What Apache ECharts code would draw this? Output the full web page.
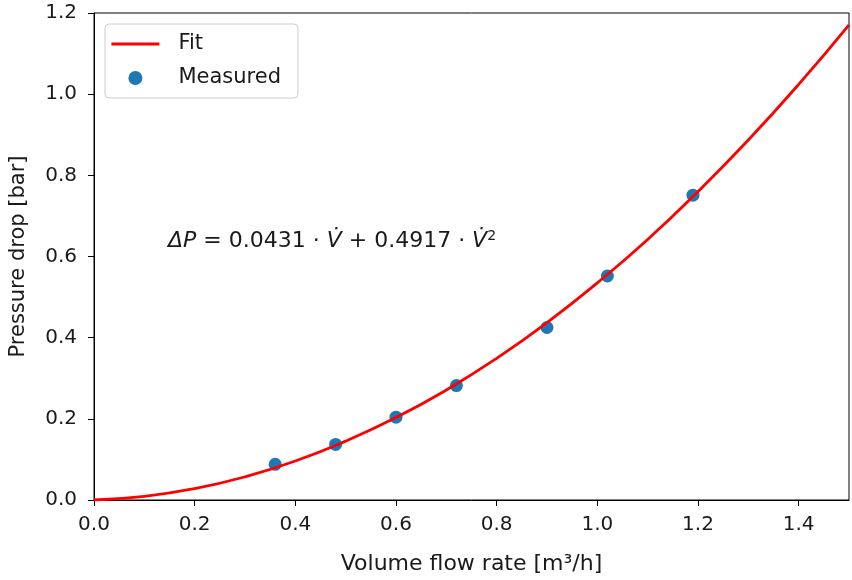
<!DOCTYPE html>
<html>
<head>
<meta charset="utf-8">
<script src="https://cdn.jsdelivr.net/npm/echarts@6/dist/echarts.min.js"></script>
<style>
  html, body { margin: 0; padding: 0; background: #fff; }
  #chart { width: 852px; height: 580px; }
</style>
</head>
<body>
<div id="chart"></div>
<script>
// measured points
const measuredFlow = [0.36, 0.48, 0.60, 0.72, 0.90, 1.02, 1.19];
const measuredDrop = [0.088, 0.137, 0.204, 0.282, 0.425, 0.552, 0.751];

// fit curve, sampled off the red line
const fitFlow = [0, 0.1, 0.2, 0.3, 0.4, 0.5, 0.6, 0.7, 0.8, 0.9, 1.0, 1.1, 1.2, 1.3, 1.4, 1.5];
const fitDrop = [0, 0.009, 0.028, 0.057, 0.096, 0.145, 0.203, 0.271, 0.349, 0.437, 0.535, 0.642, 0.760, 0.887, 1.024, 1.171];

const xTicks = [0, 0.2, 0.4, 0.6, 0.8, 1.0, 1.2, 1.4];
const yTicks = [0, 0.2, 0.4, 0.6, 0.8, 1.0, 1.2];

const font = "DejaVu Sans";
const txt = "#1a1a1a";
const chart = echarts.init(document.getElementById("chart"));

chart.setOption({
  animation: false,
  textStyle: { fontFamily: font },
  grid: {
    left: 93, right: 3, top: 13, bottom: 78,
    show: true, borderColor: "#000", borderWidth: 1
  },
  legend: {
    orient: "vertical",
    left: 105, top: 24,
    padding: [8, 17, 8, 5],
    itemGap: 10,
    itemWidth: 48, itemHeight: 14,
    backgroundColor: "#fff",
    borderColor: "#ccc", borderWidth: 1, borderRadius: 4,
    textStyle: { fontFamily: font, fontSize: 21, lineHeight: 24, color: txt, padding: [0, 0, 0, 14] },
    data: [
      { name: "Fit", icon: "line", itemStyle: { borderColor: "#ff0000", borderWidth: 2.8 } },
      { name: "Measured", icon: "circle", itemStyle: { color: "#1f77b4", opacity: 1 } }
    ]
  },
  xAxis: {
    type: "value", min: 0, max: 1.5, interval: 0.2,
    name: "Volume flow rate [m³/h]",
    nameLocation: "middle", nameGap: 53,
    nameTextStyle: { fontFamily: font, fontSize: 22, color: txt },
    axisLine: { show: true, lineStyle: { color: "#000" } },
    axisTick: { show: true, inside: false, length: 6, lineStyle: { color: "#000" } },
    axisLabel: {
      fontFamily: font, fontSize: 20, color: txt, margin: 15,
      showMaxLabel: false,
      formatter: v => xTicks.includes(+v.toFixed(1)) ? v.toFixed(1) : ""
    },
    splitLine: { show: false }
  },
  yAxis: {
    type: "value", min: 0, max: 1.2, interval: 0.2,
    name: "Pressure drop [bar]",
    nameLocation: "middle", nameGap: 65,
    nameTextStyle: { fontFamily: font, fontSize: 21, color: txt },
    axisLine: { show: true, lineStyle: { color: "#000" } },
    axisTick: { show: true, inside: false, length: 6, lineStyle: { color: "#000" } },
    axisLabel: {
      fontFamily: font, fontSize: 20, color: txt, margin: 17,
      formatter: v => yTicks.includes(+v.toFixed(1)) ? v.toFixed(1) : ""
    },
    splitLine: { show: false }
  },
  series: [
    {
      name: "Fit",
      type: "line",
      smooth: true,
      symbol: "none",
      color: "#ff0000",
      lineStyle: { color: "#ff0000", width: 2.8 },
      data: fitFlow.map((x, i) => [x, fitDrop[i]]),
      z: 3
    },
    {
      name: "Measured",
      type: "scatter",
      symbolSize: 13,
      color: "#1f77b4",
      itemStyle: { color: "#1f77b4", opacity: 1 },
      data: measuredFlow.map((x, i) => [x, measuredDrop[i]]),
      z: 2
    }
  ],
  graphic: [
    {
      type: "text",
      left: 168, top: 229,
      style: {
        text: "{i|ΔP} = 0.0431 · {i|V̇} + 0.4917 · {i|V̇}{s|2}",
        font: "22px " + font,
        fill: txt,
        rich: {
          i: { fontFamily: font, fontSize: 22, fontStyle: "italic", fill: txt },
          s: { fontFamily: font, fontSize: 14, fill: txt, verticalAlign: "top", padding: [0, 0, 11, 0] }
        }
      }
    }
  ]
});
</script>
</body>
</html>
